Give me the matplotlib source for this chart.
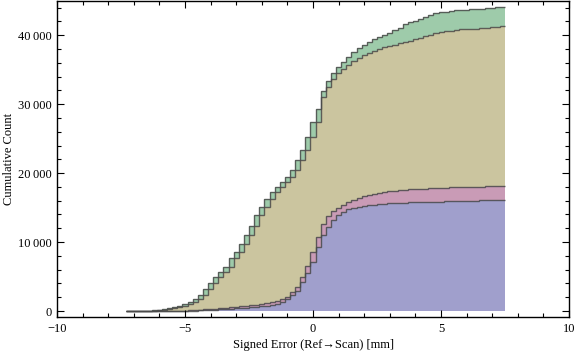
"""Stacked cumulative histogram of signed error (Ref -> Scan)."""

import matplotlib

matplotlib.use("Agg")
import matplotlib.pyplot as plt
import numpy as np
from matplotlib.ticker import FuncFormatter, MultipleLocator

# bins of 0.2 mm, from -7.3 to 7.5
bin_width = 0.2
bin_start = -7.3
n_bins = 74

# cumulative counts, read per bin; each list is the top of its stacked layer
blue_cum = [
    0, 0, 0, 0, 0, 0, 0, 0, 0, 0, 0,
    20, 40, 70, 100, 130, 160, 200, 240, 280, 320, 370, 420, 480, 540, 610,
    680, 770, 900, 1080, 1320, 1700, 2300, 2900, 4250, 5560, 7150, 9320,
    11000, 12200, 13200, 13900, 14400, 14750, 15000, 15150, 15250, 15330,
    15420, 15500, 15560, 15610, 15650, 15690, 15720, 15750, 15770, 15790,
    15810, 15830, 15850, 15870, 15890, 15910, 15930, 15950, 15970, 15990,
    16010, 16030, 16050, 16060, 16080, 16100,
]
pink_cum = [
    0, 0, 0, 0, 0, 0, 0, 0, 0,
    20, 40, 60, 100, 140, 180, 230, 280, 340, 400, 460, 520, 590, 660, 740,
    830, 940, 1060, 1220, 1340, 1490, 1740, 2080, 2800, 3530, 4980, 6520,
    8600, 10680, 12560, 13800, 14500, 14950, 15350, 15750, 16050, 16350,
    16650, 16850, 17000, 17150, 17280, 17380, 17450, 17520, 17580, 17630,
    17680, 17720, 17760, 17800, 17840, 17870, 17900, 17920, 17950, 17970,
    17990, 18010, 18030, 18050, 18070, 18090, 18100, 18120,
]
olive_cum = [
    0, 0, 0, 10, 20, 50, 145, 145, 240, 430, 580, 720, 960, 1300, 1740,
    2320, 3140, 4010, 4880, 5700, 6430, 7630, 8600, 9700, 11000, 12400,
    13900, 15100, 16300, 17300, 18000, 18700, 19500, 20400, 21900, 23400,
    25300, 27400, 31060, 32510, 33620, 34450, 35070, 35650, 36230, 36700,
    37100, 37450, 37750, 38000, 38250, 38450, 38650, 38850, 39000, 39200,
    39400, 39600, 39850, 40100, 40300, 40480, 40600, 40680, 40770, 40830,
    40870, 40950, 40970, 41050, 41060, 41120, 41200, 41300,
]
green_cum = [
    0, 0, 10, 20, 50, 145, 145, 240, 430, 580, 720, 960, 1300, 1740, 2320,
    3140, 4010, 4880, 5700, 6430, 7630, 8600, 9700, 11000, 12400, 13900,
    15100, 16300, 17300, 18000, 18700, 19500, 20400, 21900, 23400, 25300,
    27400, 29300, 31880, 33330, 34450, 35410, 36130, 36860, 37580, 38160,
    38650, 39030, 39380, 39670, 40000, 40390, 40720, 41060, 41600, 41850,
    42100, 42400, 42650, 42900, 43150, 43300, 43430, 43520, 43620, 43700,
    43720, 43770, 43850, 43870, 43920, 44000, 44020, 44060,
]

layer_colors = ["#a09fcc", "#c99bb6", "#cbc59f", "#9ecbaa"]


def thousands(v, _pos):
    return f"{int(v):,}".replace(",", "\u2009")


def main() -> None:
    plt.rcParams["font.family"] = ["Liberation Serif", "DejaVu Serif"]
    plt.rcParams["font.size"] = 9

    edges = bin_start + bin_width * np.arange(n_bins + 1)
    layers = [np.array(a, dtype=float) for a in (blue_cum, pink_cum, olive_cum, green_cum)]

    fig = plt.figure(figsize=(5.76, 3.57), dpi=100)
    ax = fig.add_axes([0.099, 0.112, 0.889, 0.886])

    base = np.zeros(n_bins)
    for top, color in zip(layers, layer_colors):
        ax.stairs(top, edges, baseline=base, fill=True, color=color, linewidth=0)
        base = top
    for top in layers:
        ax.stairs(top, edges, baseline=None, color="#4a4a4a", linewidth=1.0, alpha=0.85)

    ax.set_xlim(-10, 10)
    ax.set_ylim(-870, 45000)
    ax.xaxis.set_major_locator(MultipleLocator(5))
    ax.xaxis.set_minor_locator(MultipleLocator(1))
    ax.yaxis.set_major_locator(MultipleLocator(10000))
    ax.yaxis.set_minor_locator(MultipleLocator(2000))
    ax.yaxis.set_major_formatter(FuncFormatter(thousands))
    ax.tick_params(which="both", direction="in", top=True, right=True, width=0.8)
    ax.tick_params(which="major", length=5, pad=4)
    ax.tick_params(which="minor", length=3)
    for s in ax.spines.values():
        s.set_linewidth(1.0)

    ax.set_xlabel("Signed Error (Ref\u2192Scan) [mm]", va="center")
    ax.xaxis.set_label_coords(0.5, -0.089)
    ax.set_ylabel("Cumulative Count", va="center")
    ax.yaxis.set_label_coords(-0.094, 0.5)

    fig.savefig("out.png", dpi=100)
    plt.close(fig)


if __name__ == "__main__":
    main()
